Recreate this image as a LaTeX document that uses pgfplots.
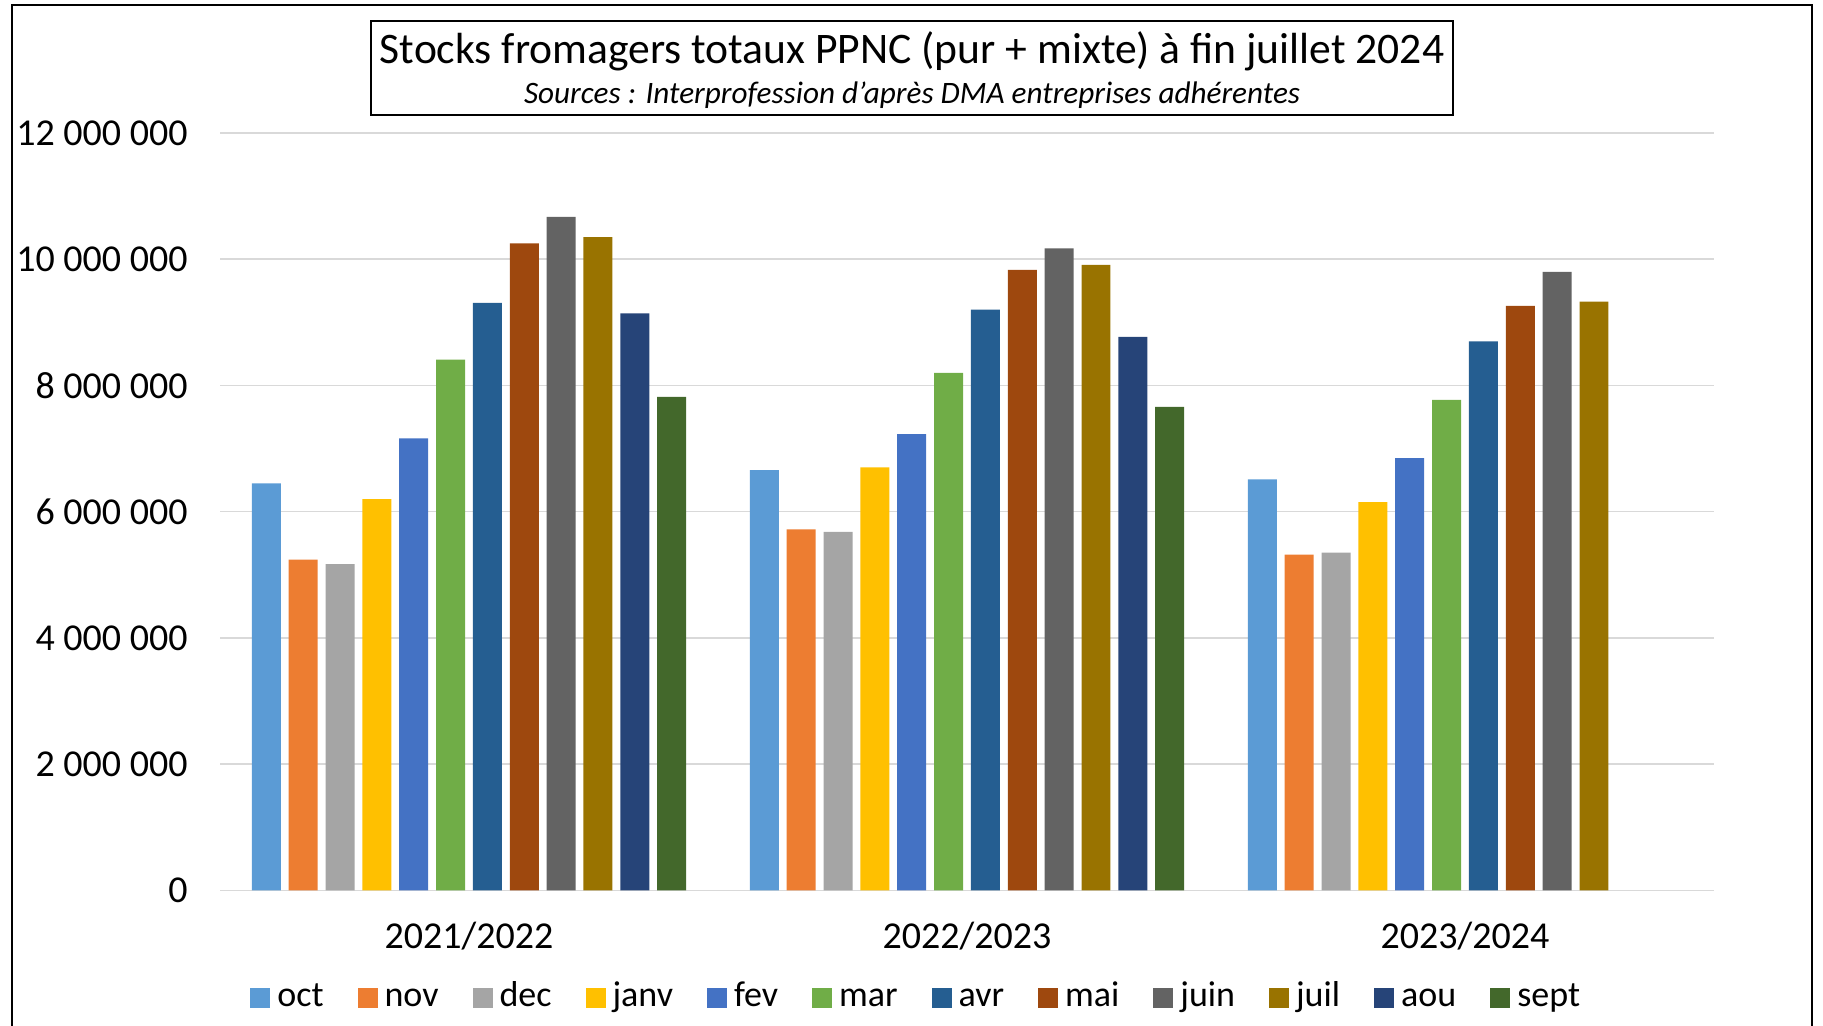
\documentclass[border=0pt]{standalone}
\usepackage{pgfplots}
\usepackage{pgfplotstable}
\pgfplotsset{compat=1.18}
\usepackage{fontspec}
\setmainfont{Carlito}

\definecolor{coct}{HTML}{5B9BD5}
\definecolor{cnov}{HTML}{ED7D31}
\definecolor{cdec}{HTML}{A5A5A5}
\definecolor{cjanv}{HTML}{FFC000}
\definecolor{cfev}{HTML}{4472C4}
\definecolor{cmar}{HTML}{70AD47}
\definecolor{cavr}{HTML}{255E91}
\definecolor{cmai}{HTML}{9E480E}
\definecolor{cjuin}{HTML}{636363}
\definecolor{cjuil}{HTML}{997300}
\definecolor{caou}{HTML}{264478}
\definecolor{csept}{HTML}{43682B}
\definecolor{gridgray}{HTML}{D9D9D9}

\pgfplotstableread{
x oct nov dec janv fev mar avr mai juin juil aou sept
0 6450000 5240000 5170000 6200000 7160000 8410000 9310000 10250000 10670000 10350000 9140000 7820000
1 6660000 5720000 5680000 6700000 7230000 8200000 9200000 9830000 10170000 9910000 8770000 7660000
2 6510000 5320000 5350000 6150000 6850000 7770000 8700000 9260000 9800000 9330000 nan nan
}\stocks

\pgfplotsset{
  mybar/.style={ybar, bar width=0.0582, draw=none,
    legend image code/.code={\fill[##1] (0pt,-5pt) rectangle (10pt,5pt);}},
}

\begin{document}
\begin{tikzpicture}
\path[use as bounding box] (0,0) rectangle (911.5pt,512.5pt);
% outer frame
\draw[line width=1pt] (6pt,-5pt) -- (6pt,510pt) -- (906pt,510pt) -- (906pt,-5pt);
% title box
\draw[line width=0.7pt] (185.5pt,455pt) rectangle (726.5pt,502pt);
\node[font=\fontsize{21.8}{25}\selectfont, inner sep=0pt] at (456pt,487pt) {Stocks fromagers totaux PPNC (pur + mixte) à fin juillet 2024};
\node[font=\fontsize{15.6}{18}\selectfont\itshape, inner sep=0pt] at (456pt,465pt) {Sources : Interprofession d'après DMA entreprises adhérentes};

\begin{axis}[
  at={(110pt,67.35pt)}, anchor=south west,
  scale only axis, width=747pt, height=378.65pt,
  xmin=-0.5, xmax=2.5, ymin=0, ymax=12000000,
  axis line style={draw=none},
  major tick length=0pt,
  ymajorgrids, grid style={gridgray, line width=0.75pt},
  xtick={0,1,2}, xticklabels={2021/2022,2022/2023,2023/2024},
  ytick={0,2000000,4000000,6000000,8000000,10000000,12000000},
  yticklabels={0,2~000~000,4~000~000,6~000~000,8~000~000,10~000~000,12~000~000},
  scaled y ticks=false,
  xticklabel style={font=\fontsize{19}{22}\selectfont, yshift=-12.5pt},
  yticklabel style={font=\fontsize{19}{22}\selectfont, xshift=-12.7pt},
  legend columns=12,
  legend style={at={(0.466,-0.142)}, anchor=center, draw=none,
    font=\fontsize{18}{21}\selectfont,
    nodes={inner sep=1pt, text height=12.5pt, text depth=4pt},
    /tikz/every odd column/.append style={column sep=2.5pt},
    /tikz/every even column/.append style={column sep=16pt}},
  legend cell align=left,
]
\addplot[mybar, bar shift=-0.407, fill=coct] table[x=x,y=oct] {\stocks};
\addplot[mybar, bar shift=-0.333, fill=cnov] table[x=x,y=nov] {\stocks};
\addplot[mybar, bar shift=-0.259, fill=cdec] table[x=x,y=dec] {\stocks};
\addplot[mybar, bar shift=-0.185, fill=cjanv] table[x=x,y=janv] {\stocks};
\addplot[mybar, bar shift=-0.111, fill=cfev] table[x=x,y=fev] {\stocks};
\addplot[mybar, bar shift=-0.037, fill=cmar] table[x=x,y=mar] {\stocks};
\addplot[mybar, bar shift=0.037, fill=cavr] table[x=x,y=avr] {\stocks};
\addplot[mybar, bar shift=0.111, fill=cmai] table[x=x,y=mai] {\stocks};
\addplot[mybar, bar shift=0.185, fill=cjuin] table[x=x,y=juin] {\stocks};
\addplot[mybar, bar shift=0.259, fill=cjuil] table[x=x,y=juil] {\stocks};
\addplot[mybar, bar shift=0.333, fill=caou] table[x=x,y=aou] {\stocks};
\addplot[mybar, bar shift=0.407, fill=csept] table[x=x,y=sept] {\stocks};
\legend{oct,nov,dec,janv,fev,mar,avr,mai,juin,juil,aou,sept}
\end{axis}
\end{tikzpicture}
\end{document}
